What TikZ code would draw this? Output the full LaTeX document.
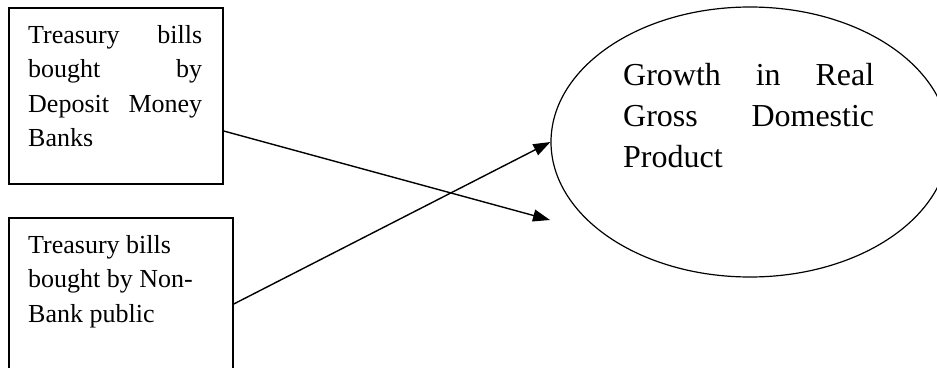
\documentclass[tikz,border=0pt]{standalone}
\usepackage{fontspec}
\setmainfont{Liberation Serif}
\usetikzlibrary{arrows.meta,shapes.geometric}
\begin{document}
\begin{tikzpicture}[x=1pt,y=-1pt,
  boxnode/.style={draw, line width=1.5pt, rectangle, inner sep=0pt},
  ellnode/.style={draw, line width=1.2pt, ellipse, inner sep=0pt},
  txt/.style={inner sep=0pt, anchor=base west},
  conn/.style={line width=1.4pt, -{Triangle[length=17pt,width=12pt]}}]
\useasboundingbox (0,0) rectangle (937,367);
\clip (0,0) rectangle (937,367);
\fill[white] (0,0) rectangle (937,367);
% boxes
\node[boxnode, minimum width=214pt, minimum height=176pt] (b1) at (116,96) {};
\node[boxnode, minimum width=224pt, minimum height=200pt] (b2) at (121,318) {};
% ellipse
\node[ellnode, minimum width=398pt, minimum height=270pt] (e) at (750,142) {};
% texts
\node[txt] (t1) at (28,43) {\parbox[t]{174pt}{\fontsize{26pt}{34.5pt}\selectfont
  \makebox[\linewidth][s]{Treasury bills}\par
  \makebox[\linewidth][s]{bought by}\par
  \makebox[\linewidth][s]{Deposit Money}\par
  Banks}};
\node[txt] (t2) at (28,253) {\parbox[t]{190pt}{\fontsize{26pt}{34.5pt}\selectfont
  Treasury bills\par
  bought by Non-\par
  Bank public}};
\node[txt] (t3) at (623,85) {\parbox[t]{251pt}{\fontsize{32pt}{41pt}\selectfont
  \makebox[\linewidth][s]{Growth in Real}\par
  \makebox[\linewidth][s]{Gross Domestic}\par
  Product}};
% connectors
\coordinate (c1) at (550,220);
\draw[conn] ([yshift=-35pt]b1.east) -- (c1);
\draw[conn] ([yshift=14pt]b2.east) -- (e.west);
\end{tikzpicture}
\end{document}
